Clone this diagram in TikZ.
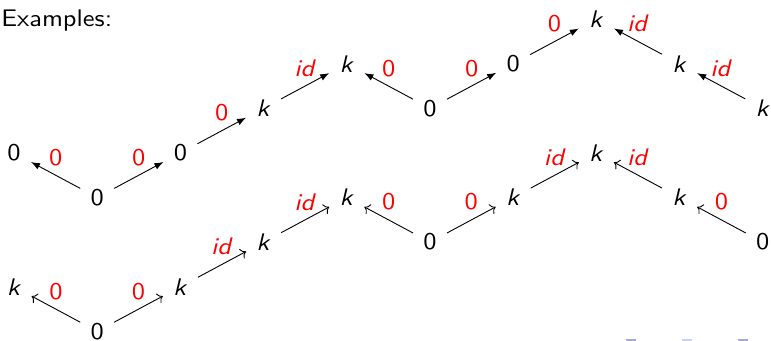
\documentclass[tikz,border=0pt]{standalone}
\usepackage{fontspec}
\setsansfont{lmsans10-regular.otf}[
  ItalicFont=lmsans10-oblique.otf,
  FakeStretch=1.1]
\usetikzlibrary{arrows.meta,positioning}
\definecolor{LRed}{HTML}{FF0000}
\definecolor{NBlue}{HTML}{A8A8DC}
\definecolor{NBlueL}{HTML}{D0D0EE}

\begin{document}
\begin{tikzpicture}[
  x=0.5pt,y=-0.5pt,
  on grid,
  node distance=22.3pt and 41.6pt,
  every node/.style={font=\sffamily\fontsize{12}{14}\selectfont},
  v/.style={inner sep=5pt},
  l/.style={text=LRed,inner sep=0pt,anchor=south,yshift=4.5pt},
  f/.style={-{Latex[length=4.5pt,width=3.4pt]},line width=0.45pt},
  o/.style={-{To[length=2.6pt]},line width=0.45pt}
]
  \useasboundingbox (0,0) rectangle (771,341);
  \node[anchor=base west,inner sep=0pt] (hdr) at (1,27) {Examples:};
  % upper chain
  \node[v] (t0) at (14,152.9) {0};
  \node[v,below right=of t0] (t1) {0};
  \node[v,above right=of t1] (t2) {0};
  \node[v,above right=of t2] (t3) {\textit{k}};
  \node[v,above right=of t3] (t4) {\textit{k}};
  \node[v,below right=of t4] (t5) {0};
  \node[v,above right=of t5] (t6) {0};
  \node[v,above right=of t6] (t7) {\textit{k}};
  \node[v,below right=of t7] (t8) {\textit{k}};
  \node[v,below right=of t8] (t9) {\textit{k}};
  \draw[f] (t1) -- node[l,midway] {0} (t0);
  \draw[f] (t1) -- node[l,midway] {0} (t2);
  \draw[f] (t2) -- node[l,midway] {0} (t3);
  \draw[f] (t3) -- node[l,midway] {\textit{id}} (t4);
  \draw[f] (t5) -- node[l,midway] {0} (t4);
  \draw[f] (t5) -- node[l,midway] {0} (t6);
  \draw[f] (t6) -- node[l,midway] {0} (t7);
  \draw[f] (t8) -- node[l,midway] {\textit{id}} (t7);
  \draw[f] (t9) -- node[l,midway] {\textit{id}} (t8);
  % lower chain
  \node[v,below=66.9pt of t1] (b1) {0};
  \node[v,above left=of b1] (b0) {\textit{k}};
  \node[v,above right=of b1] (b2) {\textit{k}};
  \node[v,above right=of b2] (b3) {\textit{k}};
  \node[v,above right=of b3] (b4) {\textit{k}};
  \node[v,below right=of b4] (b5) {0};
  \node[v,above right=of b5] (b6) {\textit{k}};
  \node[v,above right=of b6] (b7) {\textit{k}};
  \node[v,below right=of b7] (b8) {\textit{k}};
  \node[v,below right=of b8] (b9) {0};
  \draw[o] (b1) -- node[l,midway] {0} (b0);
  \draw[o] (b1) -- node[l,midway] {0} (b2);
  \draw[o] (b2) -- node[l,midway] {\textit{id}} (b3);
  \draw[o] (b3) -- node[l,midway] {\textit{id}} (b4);
  \draw[o] (b5) -- node[l,midway] {0} (b4);
  \draw[o] (b5) -- node[l,midway] {0} (b6);
  \draw[o] (b6) -- node[l,midway] {\textit{id}} (b7);
  \draw[o] (b8) -- node[l,midway] {\textit{id}} (b7);
  \draw[o] (b9) -- node[l,midway] {0} (b8);
  % cut-off navigation marks
  \fill[NBlue] (626,339) rectangle (636,341);
  \fill[NBlueL] (682,339) rectangle (692,341);
  \fill[NBlue] (738,339) rectangle (748,341);
\end{tikzpicture}
\end{document}
